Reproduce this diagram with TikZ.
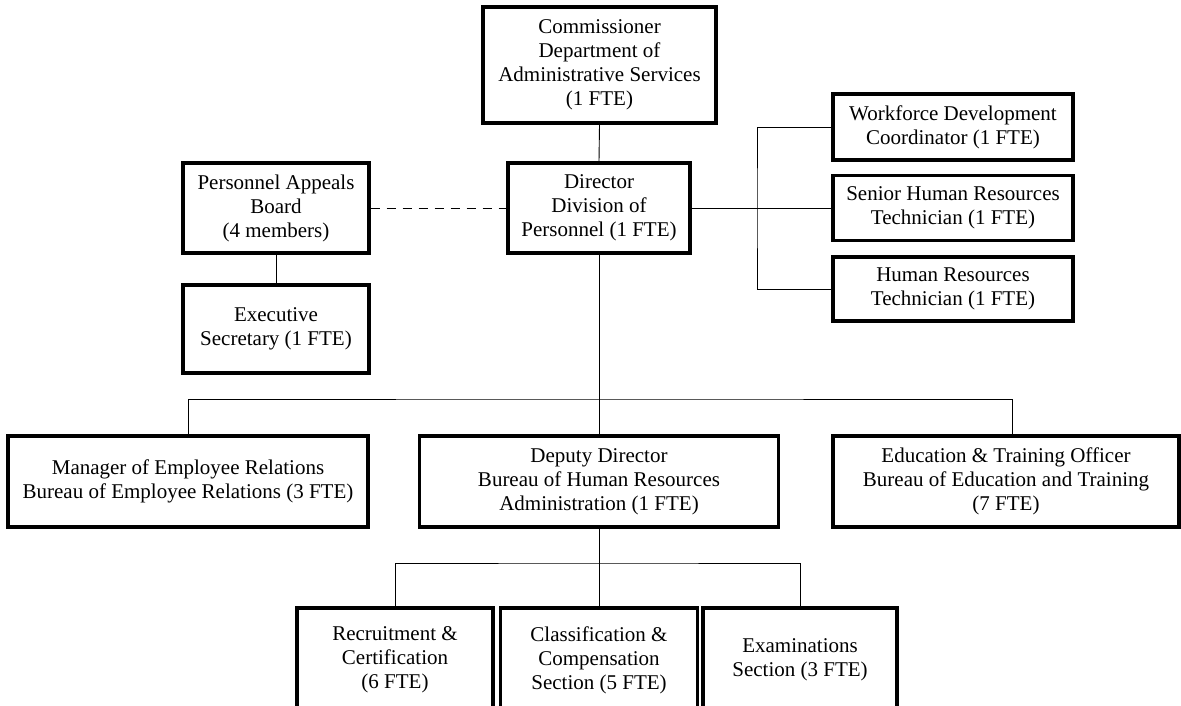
\documentclass[tikz,border=0pt]{standalone}
\usepackage{fontspec}
\setmainfont{Liberation Serif}
\begin{document}
\begin{tikzpicture}[x=1pt,y=-1pt,
  orgbox/.style={draw=black,line width=3.2pt,fill=white,align=center,inner sep=0pt,
    font=\fontsize{21}{24}\selectfont},
  link/.style={draw=black,line width=0.9pt},
  dotlink/.style={draw=black,line width=0.9pt,dash pattern=on 9pt off 7pt}]
\useasboundingbox (0,0) rectangle (1181,706);
\clip (0,0) rectangle (1181,706);
% nodes
\node[orgbox,minimum width=233pt,minimum height=116pt] (comm) at (599.5,65)
  {Commissioner\\Department of\\Administrative Services\\(1 FTE)};
\node[orgbox,minimum width=182pt,minimum height=90pt] (dir) at (599,208)
  {Director\\Division of\\Personnel (1 FTE)};
\node[orgbox,minimum width=186pt,minimum height=90pt] (pab) at (276,208)
  {Personnel Appeals\\Board\\(4 members)};
\node[orgbox,minimum width=186pt,minimum height=88pt] (exec) at (276,329)
  {Executive\\Secretary (1 FTE)};
\node[orgbox,minimum width=240pt,minimum height=66pt] (wdc) at (953,127)
  {Workforce Development\\Coordinator (1 FTE)};
\node[orgbox,minimum width=240pt,minimum height=65pt] (shrt) at (953,208)
  {Senior Human Resources\\Technician (1 FTE)};
\node[orgbox,minimum width=240pt,minimum height=64pt] (hrt) at (953,289)
  {Human Resources\\Technician (1 FTE)};
\node[orgbox,minimum width=360pt,minimum height=91pt] (mgr) at (188,481.5)
  {Manager of Employee Relations\\Bureau of Employee Relations (3 FTE)};
\node[orgbox,minimum width=359pt,minimum height=91pt] (dep) at (599,481.5)
  {Deputy Director\\Bureau of Human Resources\\Administration (1 FTE)};
\node[orgbox,minimum width=346pt,minimum height=91pt] (edu) at (1006,481.5)
  {Education \& Training Officer\\Bureau of Education and Training\\(7 FTE)};
\node[orgbox,minimum width=196pt,minimum height=104pt] (rec) at (395,660)
  {Recruitment \&\\Certification\\(6 FTE)};
\node[orgbox,minimum width=197pt,minimum height=104pt] (cls) at (599,660)
  {Classification \&\\Compensation\\Section (5 FTE)};
\node[orgbox,minimum width=194pt,minimum height=104pt] (exm) at (800,660)
  {Examinations\\Section (3 FTE)};
% junction coordinates
\coordinate (brk) at (757,208);
\coordinate (hub) at (599,399);
\coordinate (hub2) at (599,563);
\coordinate (edutop) at ([xshift=6pt]edu.north);
% connectors
\draw[link] (comm.south) -- (dir.north);
\draw[dotlink] (pab.east) -- (dir.west);
\draw[link] (pab.south) -- (exec.north);
\draw[link] (dir.east) -- (brk);
\draw[link] (wdc.west) -| (brk) |- (hrt.west);
\draw[link] (brk) -- (shrt.west);
\draw[link] (dir.south) -- (dep.north);
\draw[link] (mgr.north) |- (hub) -| (edutop);
\draw[link] (dep.south) -- (cls.north);
\draw[link] (rec.north) |- (hub2) -| (exm.north);
\end{tikzpicture}
\end{document}
